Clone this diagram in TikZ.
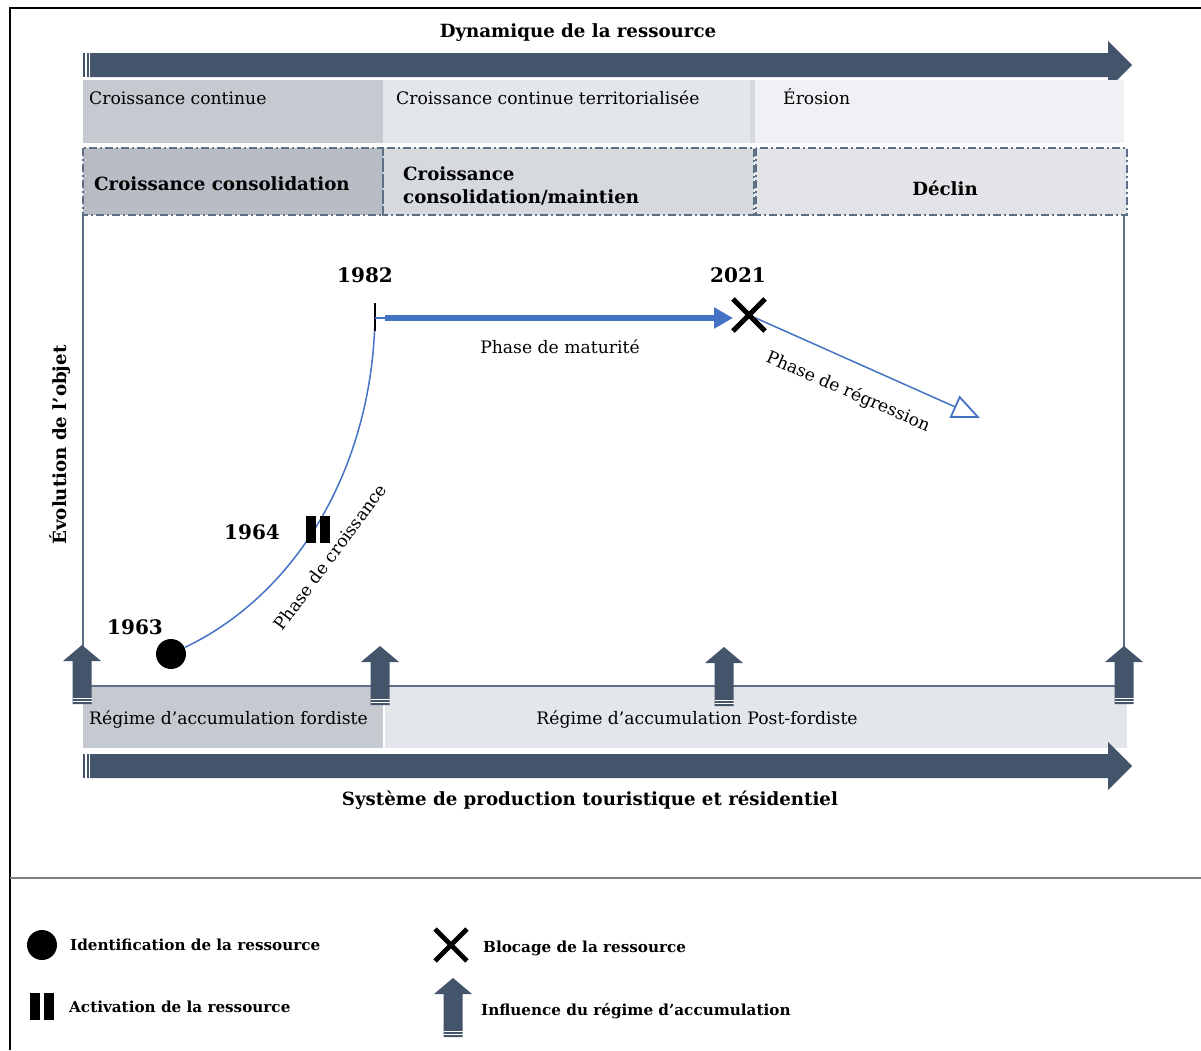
\documentclass[tikz,border=0pt]{standalone}
\usepackage{fontspec}
\setmainfont{DejaVu Serif}
\usetikzlibrary{arrows.meta,shapes.misc}
\definecolor{dk}{HTML}{44546A}
\definecolor{bl}{HTML}{4472C4}
\definecolor{ga}{HTML}{C5C9D0}
\definecolor{gb}{HTML}{E3E6EA}
\definecolor{gc}{HTML}{F0F1F4}
\definecolor{ha}{HTML}{B8BCC4}
\definecolor{hb}{HTML}{D6D9DE}
\definecolor{hc}{HTML}{E3E4E8}
\definecolor{fr}{HTML}{5E6E84}
\tikzset{
  reg/.style={font=\fontsize{17.2}{20}\selectfont, inner sep=0},
  bld/.style={font=\fontsize{18.2}{23}\selectfont\bfseries, inner sep=0},
  year/.style={font=\fontsize{20}{24}\selectfont\bfseries, inner sep=0},
  leg/.style={font=\fontsize{15.2}{18}\selectfont\bfseries, inner sep=0, anchor=west},
  dashbox/.style={draw=fr, line width=1.6pt, dash pattern=on 8pt off 3pt on 2pt off 3pt},
  crossmark/.style={cross out, draw=black, line width=4.8pt, minimum size=27, inner sep=0},
}
\newcommand\upinfl[3]{%
  \fill[dk] (#1-9.5,#3) -- (#1-9.5,#2+16) -- (#1-19,#2+16) -- (#1,#2) -- (#1+19,#2+16) -- (#1+9.5,#2+16) -- (#1+9.5,#3) -- cycle;
  \draw[white, line width=0.5pt] (#1-9.5,#3-3) -- (#1+9.5,#3-3) (#1-9.5,#3-5.5) -- (#1+9.5,#3-5.5);}
\newcommand\bigarr[1]{%
  \fill[dk] (90,#1-12) -- (1108,#1-12) -- (1108,#1-24) -- (1132,#1) -- (1108,#1+24) -- (1108,#1+12) -- (90,#1+12) -- cycle;
  \fill[dk] (83,#1-12) rectangle (85,#1+12);
  \fill[dk] (86.8,#1-12) rectangle (88.5,#1+12);}
\begin{document}
\begin{tikzpicture}[x=1pt,y=-1pt]
\useasboundingbox (0,0) rectangle (1201,1050);
% outer frame
\draw[black, line width=1.6pt] (10,1050) -- (10,8) -- (1201,8);
\draw[gray, line width=1.2pt] (10,878) -- (1201,878);

% title
\node[bld] (t1) at (578,33) {Dynamique de la ressource};
\bigarr{65}

% row 1
\fill[ga] (83,80) rectangle (383,143);
\fill[gb] (383,80) rectangle (755,143);
\fill[hb] (750,80) rectangle (755,143);
\fill[gc] (755,80) rectangle (1124,143);
\node[reg, anchor=west] (r1a) at (89,98) {Croissance continue};
\node[reg, anchor=west] (r1b) at (396,98) {Croissance continue territorialisée};
\node[reg, anchor=west] (r1c) at (783,97) {Érosion};

% row 2
\fill[ha] (83,148) rectangle (383,215);
\fill[hb] (383,148) rectangle (754,215);
\fill[hc] (755,148) rectangle (1127,215);
\draw[dashbox] (83,148) rectangle (383,215);
\draw[dashbox] (383,148) rectangle (754,215);
\draw[dashbox] (756,148) rectangle (1127,215);
\node[bld, anchor=west] (r2a) at (94,184) {Croissance consolidation};
\node[bld, anchor=west, align=left] (r2b) at (403,186) {Croissance\\consolidation/maintien};
\node[bld] (r2c) at (945,188) {Déclin};

% chart frame
\draw[fr, line width=1.5pt] (83,215) -- (83,660);
\draw[fr, line width=1.5pt] (1124,215) -- (1124,660);

% bottom boxes
\fill[ga] (83,686) rectangle (383,748);
\fill[gb] (385,686) rectangle (1127,748);
\draw[fr, line width=1.5pt] (83,686) -- (1124,686);
\node[reg, anchor=west] (b1) at (89,720) {Régime d’accumulation fordiste};
\node[reg] (b2) at (697,720) {Régime d’accumulation Post-fordiste};

\upinfl{82}{645}{704}
\upinfl{380}{646}{705}
\upinfl{724}{647}{706}
\upinfl{1124}{646}{704}

\bigarr{766}
\node[bld] (t2) at (590,800) {Système de production touristique et résidentiel};

% axis label
\node[bld, rotate=90] (ax) at (60,445) {Évolution de l’objet};

% markers
\node[circle, fill=black, minimum size=30, inner sep=0] (d63) at (171,654) {};
\node[minimum width=23, minimum height=27, inner sep=0] (p64) at (318,530) {};
\coordinate (c82) at (375,318);
\coordinate (c82b) at (385,318);
\node[crossmark] (x21) at (749,315) {};
\coordinate (rg) at (980,418);

\draw[bl, line width=1.5pt] (d63) .. controls (295,595) and (372,470) .. (c82);
\fill[black] (p64.north west) rectangle ++(10,27);
\fill[black] (p64.north east) rectangle ++(-10,27);
\draw[black, line width=1.5pt] (375,303) -- (375,331);
\draw[bl, line width=1.5pt] (c82) -- (c82b);
\draw[bl, line width=5.5pt, -{Triangle[length=19pt, width=20pt]}] (c82b) -- (x21.west |- c82b);
\draw[bl, line width=1.5pt, -{Triangle[open, length=28pt, width=24pt, fill=white, line width=1.8pt]}] (x21.center) -- (rg);
\node[crossmark] at (x21.center) {};

% labels
\node[year] (y82) at (365,275) {1982};
\node[year] (y21) at (738,275) {2021};
\node[year] (y64) at (252,532) {1964};
\node[year] (y63) at (135,627) {1963};
\node[reg] (lm) at (560,347) {Phase de maturité};
\node[reg, rotate=-23.4] (lr) at (848,392) {Phase de régression};
\node[reg, rotate=53.5] (lc) at (330,557) {Phase de croissance};

% legend
\node[circle, fill=black, minimum size=30, inner sep=0] (l1) at (42,945) {};
\node[leg] (l1t) at (70,945) {Identification de la ressource};
\node[minimum width=23, minimum height=27, inner sep=0] (l2) at (42,1007) {};
\fill[black] (l2.north west) rectangle ++(9.5,27);
\fill[black] (l2.north east) rectangle ++(-9.5,27);
\node[leg] (l2t) at (69,1007) {Activation de la ressource};
\node[crossmark] (l3) at (451,945) {};
\node[leg] (l3t) at (483,948) {Blocage de la ressource};
\upinfl{453}{978}{1037}
\node[leg] (l4t) at (481,1011) {Influence du régime d’accumulation};
\end{tikzpicture}
\end{document}
